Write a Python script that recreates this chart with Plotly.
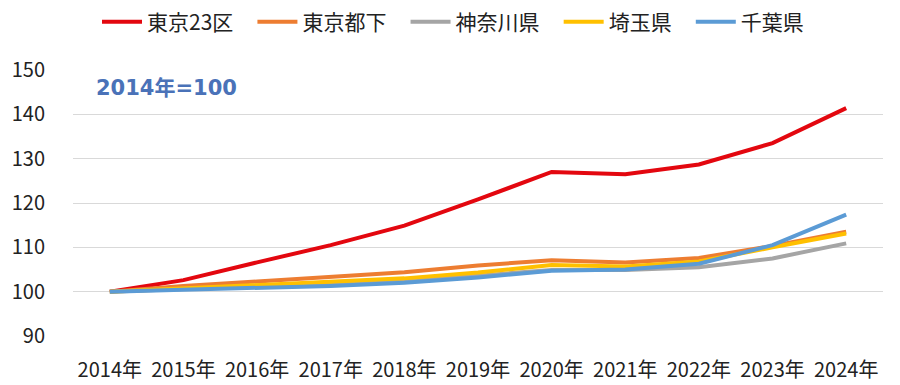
import plotly.graph_objects as go

years = ["2014年", "2015年", "2016年", "2017年", "2018年", "2019年", "2020年", "2021年", "2022年", "2023年", "2024年"]
tokyo23 = [100, 102.6, 106.6, 110.5, 114.9, 120.8, 127.0, 126.5, 128.7, 133.5, 141.4]
tokyo_other = [100, 101.3, 102.3, 103.3, 104.4, 105.9, 107.1, 106.6, 107.6, 110.3, 113.5]
kanagawa = [100, 100.6, 101.2, 101.8, 102.5, 103.6, 104.9, 104.9, 105.5, 107.5, 110.9]
saitama = [100, 100.8, 101.5, 102.2, 103.0, 104.3, 106.0, 105.7, 106.8, 110.0, 113.1]
chiba = [100, 100.4, 100.8, 101.3, 102.0, 103.2, 104.7, 105.0, 106.3, 110.5, 117.4]

series = [
    ("東京23区", tokyo23, "#E3070F"),
    ("東京都下", tokyo_other, "#ED7D31"),
    ("神奈川県", kanagawa, "#A5A5A5"),
    ("埼玉県", saitama, "#FFC000"),
    ("千葉県", chiba, "#5B9BD5"),
]

FONT = "Noto Sans CJK JP"
PAD = "\u00a0\u00a0\u00a0"

fig = go.Figure()
for name, vals, col in series:
    fig.add_trace(go.Scatter(x=years, y=vals, name=name + PAD, mode="lines",
                             line=dict(color=col, width=4)))

fig.add_annotation(text="<b>2014年=100</b>", x=21 / 810, y=(336 - 88) / 266, xref="paper", yref="paper",
                   xanchor="left", yanchor="middle", showarrow=False,
                   font=dict(family="DejaVu Sans, Noto Sans CJK JP", size=21, color="#4A72B8"))

fig.update_layout(
    width=900, height=385,
    margin=dict(l=73, r=17, t=70, b=49),
    paper_bgcolor="white", plot_bgcolor="white",
    font=dict(family=FONT, size=20, color="#222222"),
    legend=dict(orientation="h", x=0.5 + 10 / 900, xanchor="center", xref="container",
                y=1 - 22 / 385, yanchor="middle", yref="container",
                font=dict(size=21), itemwidth=40, tracegroupgap=0),
    showlegend=True,
)
fig.update_xaxes(type="category", range=[-0.5, 10.5], showgrid=False, showline=False,
                 zeroline=False, ticks="", tickfont=dict(size=20), ticklabelstandoff=20,
                 automargin=False)
fig.update_yaxes(range=[90, 150], dtick=10, showgrid=True, gridcolor="#D9D9D9", gridwidth=1,
                 zeroline=False, showline=False, ticks="", ticklabelstandoff=27,
                 tickfont=dict(size=20), automargin=False)

fig.write_html("out.html", config={"displayModeBar": False},
               post_script="document.body.style.margin='0';")
